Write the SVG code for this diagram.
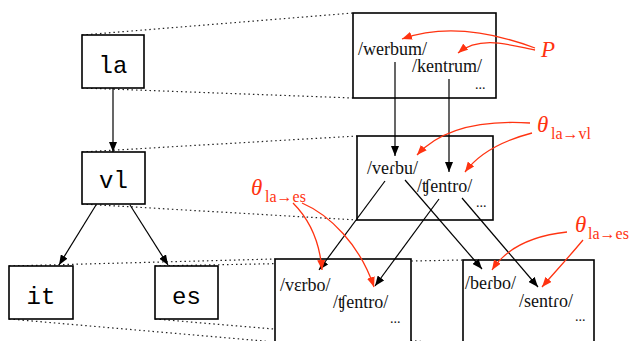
<svg xmlns="http://www.w3.org/2000/svg" width="634" height="341" viewBox="0 0 634 341">
  <style>
    .box { fill: #fff; stroke: #000; stroke-width: 1.6; }
    .node-label { font-family: "Liberation Mono", "DejaVu Sans Mono", monospace; font-size: 24px; fill: #000; text-anchor: middle; }
    .form { font-family: "Liberation Serif", "DejaVu Serif", serif; font-size: 18px; fill: #111; }
    .dots { font-family: "Liberation Serif", serif; font-size: 14px; fill: #111; }
    .guide { stroke: #222; stroke-width: 1.2; stroke-dasharray: 1.5 3; fill: none; }
    .edge { stroke: #000; stroke-width: 1.2; fill: none; marker-end: url(#arrow-black); }
    .map { stroke: #ff3311; stroke-width: 1.3; fill: none; marker-end: url(#arrow-red); }
    .sym { font-family: "Liberation Serif", "DejaVu Serif", serif; font-style: italic; font-size: 23px; fill: #ff3311; }
    .sub { font-family: "Liberation Serif", "DejaVu Serif", serif; font-size: 16px; fill: #ff3311; }
  </style>
  <defs>
    <marker id="arrow-black" viewBox="0 0 10 8" refX="10" refY="4" markerWidth="10" markerHeight="8" markerUnits="userSpaceOnUse" orient="auto">
      <path d="M0,0 L10,4 L0,8 Z" fill="#000"/>
    </marker>
    <marker id="arrow-red" viewBox="0 0 10 8" refX="10" refY="4" markerWidth="10" markerHeight="8" markerUnits="userSpaceOnUse" orient="auto">
      <path d="M0,0 L10,4 L0,8 Z" fill="#ff3311"/>
    </marker>
  </defs>

  <!-- dotted guides linking each tree node to its lexicon box -->
  <g id="guides">
    <line class="guide" x1="82" y1="35" x2="353" y2="13"/>
    <line class="guide" x1="82" y1="88" x2="353" y2="98"/>
    <line class="guide" x1="82" y1="152" x2="357" y2="136"/>
    <line class="guide" x1="82" y1="204" x2="357" y2="220"/>
    <line class="guide" x1="9" y1="266" x2="275" y2="259"/>
    <line class="guide" x1="9" y1="319" x2="275" y2="342"/>
    <line class="guide" x1="155" y1="266" x2="463" y2="260"/>
    <line class="guide" x1="155" y1="319" x2="463" y2="345"/>
  </g>

  <!-- language tree -->
  <g id="node-la">
    <rect class="box" x="82" y="35" width="62" height="53"/>
    <text class="node-label" x="113" y="73">la</text>
  </g>
  <g id="node-vl">
    <rect class="box" x="82" y="152" width="63" height="52"/>
    <text class="node-label" x="113.5" y="188">vl</text>
  </g>
  <g id="node-it">
    <rect class="box" x="9" y="266" width="64" height="53"/>
    <text class="node-label" x="41" y="304">it</text>
  </g>
  <g id="node-es">
    <rect class="box" x="155" y="266" width="63" height="53"/>
    <text class="node-label" x="186.5" y="304">es</text>
  </g>

  <!-- lexicon boxes -->
  <g id="lex-la">
    <rect class="box" x="353" y="13" width="143" height="85"/>
    <text class="form" x="358" y="55">/werbum/</text>
    <text class="form" x="412" y="72">/kentrum/</text>
    <text class="dots" x="475" y="89">...</text>
  </g>
  <g id="lex-vl">
    <rect class="box" x="357" y="136" width="136" height="84"/>
    <text class="form" x="367" y="174">/veɾbu/</text>
    <text class="form" x="417" y="192">/ʧentro/</text>
    <text class="dots" x="476" y="207">...</text>
  </g>
  <g id="lex-it">
    <rect class="box" x="275" y="259" width="136" height="100"/>
    <text class="form" x="280" y="291">/vɛrbo/</text>
    <text class="form" x="333" y="308">/ʧentro/</text>
    <text class="dots" x="390" y="323">...</text>
  </g>
  <g id="lex-es">
    <rect class="box" x="463" y="260" width="131" height="100"/>
    <text class="form" x="465" y="289">/beɾbo/</text>
    <text class="form" x="519" y="307">/sentɾo/</text>
    <text class="dots" x="575" y="321">...</text>
  </g>

  <!-- connectors -->
  <g id="connectors">
    <line class="edge" x1="113" y1="88" x2="113" y2="152"/>
    <line class="edge" x1="96" y1="205" x2="59" y2="265"/>
    <line class="edge" x1="130" y1="205" x2="168" y2="265"/>

    <line class="edge" x1="395" y1="62" x2="395" y2="156"/>
    <line class="edge" x1="449" y1="79" x2="449" y2="172"/>
    <line class="edge" x1="385" y1="181" x2="319" y2="270"/>
    <line class="edge" x1="405" y1="180" x2="482" y2="269"/>
    <line class="edge" x1="439" y1="199" x2="375" y2="286"/>
    <line class="edge" x1="462" y1="198" x2="538" y2="287"/>

    <path class="map" d="M535,48 C500,35 450,22 402,39"/>
    <path class="map" d="M535,50 C510,45 480,35 458,53"/>
    <path class="map" d="M530,123 C480,120 440,130 417,155"/>
    <path class="map" d="M532,133 C505,140 480,152 465,172"/>
    <path class="map" d="M293,203 C312,222 320,245 322,270"/>
    <path class="map" d="M302,203 C330,215 360,245 374,287"/>
    <path class="map" d="M567,232 C530,236 505,250 492,270"/>
    <path class="map" d="M583,240 C568,258 555,272 542,287"/>
  </g>

  <!-- mapping labels -->
  <g id="label-P">
    <text class="sym" x="541" y="57">P</text>
  </g>
  <g id="label-theta-vl">
    <text class="sym" x="537" y="132">θ</text>
    <text class="sub" x="551" y="139">la→vl</text>
  </g>
  <g id="label-theta-es-left">
    <text class="sym" x="251" y="195">θ</text>
    <text class="sub" x="265" y="202">la→es</text>
  </g>
  <g id="label-theta-es-right">
    <text class="sym" x="575" y="232">θ</text>
    <text class="sub" x="588" y="239">la→es</text>
  </g>
</svg>
